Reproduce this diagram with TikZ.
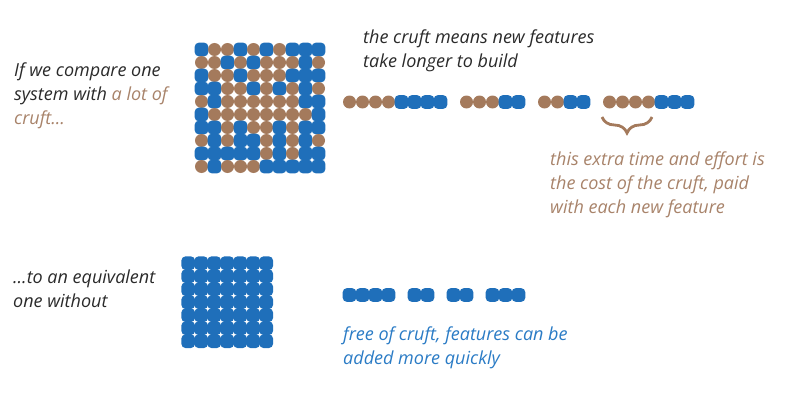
\documentclass[tikz,border=0pt]{standalone}
\usepackage{fontspec}
\setmainfont{Open Sans}
\usetikzlibrary{decorations.pathreplacing}
\definecolor{cblue}{HTML}{1F6FBA}
\definecolor{cbrown}{HTML}{A47A5C}
\definecolor{tbrown}{HTML}{A8836A}
\definecolor{tblue}{HTML}{2A7BC5}
\definecolor{tdark}{HTML}{2A2A2A}
\newcommand\cellB[2]{\fill[cblue, rounded corners=4pt] (#1-6.8,#2-6.8) rectangle (#1+6.8,#2+6.8);}
\newcommand\cellR[2]{\fill[cbrown] (#1,#2) circle (6.5);}
\newcommand\cellX[3]{\ifnum#1=1 \cellB{#2}{#3}\else\cellR{#2}{#3}\fi}
\begin{document}
\begin{tikzpicture}[x=1pt,y=-1pt,
  txt/.style={inner sep=0pt, anchor=base west, font=\fontsize{18}{24}\selectfont\itshape}]
\useasboundingbox (0,0) rectangle (806,420);
% ---- top grid (cruft system)
\foreach \r/\row in {0/{1,0,0,1,0,1,0,1,1,1},
                     1/{0,0,1,0,1,0,0,0,1,0},
                     2/{1,0,0,1,0,0,0,1,1,1},
                     3/{1,1,0,0,1,0,1,0,1,0},
                     4/{0,1,0,0,0,0,0,0,1,1},
                     5/{1,0,0,0,0,0,0,0,0,1},
                     6/{1,1,0,1,0,0,1,0,1,1},
                     7/{0,1,0,1,1,0,1,0,1,0},
                     8/{1,1,1,1,1,0,1,0,1,1},
                     9/{0,1,0,0,0,1,1,1,1,1}}{
  \foreach \v [count=\c from 0] in \row {
    \cellX{\v}{201.5+13*\c}{49.5+13*\r}
  }
}
% ---- bottom grid (clean system)
\foreach \r in {0,...,6}{
  \foreach \c in {0,...,6}{
    \cellB{188.2+13*\c}{263.2+13*\r}
  }
}
% ---- top feature row
\foreach \k/\v in {0/0,1/0,2/0,3/0,4/1,5/1,6/1,7/1,
                   9/0,10/0,11/0,12/1,13/1,
                   15/0,16/0,17/1,18/1,
                   20/0,21/0,22/0,23/0,24/1,25/1,26/1}{
  \cellX{\v}{349.5+13*\k}{102}
}
% ---- bottom feature row
\foreach \k in {0,1,2,3,5,6,8,9,11,12,13}{
  \cellB{349.5+13*\k}{295}
}
% ---- brace
\coordinate (braceR) at (652,117);
\coordinate (braceL) at (602,117);
\draw[cbrown, line width=2.8pt, decoration={brace, amplitude=16pt}, decorate] (braceR) -- (braceL);
% ---- texts
\node[txt, text=tdark] (t1) at (14,76.5) {\vtop{\hbox{If we compare one}\hbox{system with \textcolor{tbrown}{a lot of}}\hbox{\textcolor{tbrown}{cruft...}}}};
\node[txt, text=tdark] (t2) at (363,43.3) {\vtop{\hbox{the cruft means new features}\hbox{take longer to build}}};
\node[txt, text=tbrown] (t3) at (550,165) {\vtop{\hbox{this extra time and effort is}\hbox{the cost of the cruft, paid}\hbox{with each new feature}}};
\node[txt, text=tdark] (t4) at (13,283.3) {\vtop{\hbox{...to an equivalent}\hbox{one without}}};
\node[txt, text=tblue] (t5) at (343,340) {\vtop{\hbox{free of cruft, features can be}\hbox{added more quickly}}};
\end{tikzpicture}
\end{document}
